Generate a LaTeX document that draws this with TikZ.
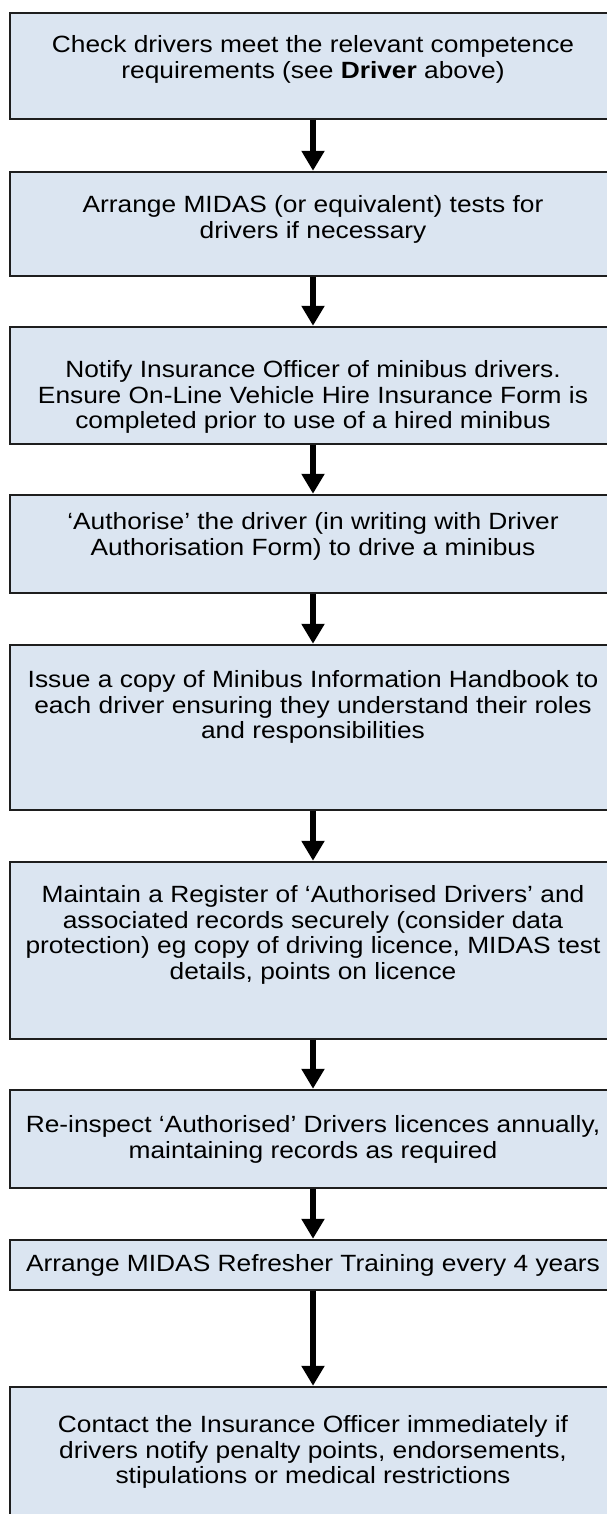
\documentclass[tikz,border=0pt]{standalone}
\usepackage{fontspec}
\setmainfont[FakeStretch=1.12]{Liberation Sans}
\usepackage{tikz}
\usetikzlibrary{arrows.meta, positioning}
\definecolor{boxfill}{RGB}{219,229,241}
\definecolor{boxline}{RGB}{30,30,30}

\tikzset{
    stepbox/.style={draw=boxline, line width=1.4pt, fill=boxfill, minimum width=606pt, inner sep=0pt},
    steptext/.style={align=center, inner sep=0pt, font=\fontsize{23.5}{25.5}\selectfont},
    flowarrow/.style={line width=6pt, -{Triangle[width=22pt, length=20pt]}, shorten >=0.5pt}
}

\begin{document}
\begin{tikzpicture}[x=1pt, y=-1pt]
    \useasboundingbox (0, 0) rectangle (607, 1514);

    % Boxes
    \node[stepbox, minimum height=106pt] (s1) at (313, 66) {};
    \node[stepbox, minimum height=104pt] (s2) at (313, 224) {};
    \node[stepbox, minimum height=117pt] (s3) at (313, 385.5) {};
    \node[stepbox, minimum height=98pt] (s4) at (313, 544) {};
    \node[stepbox, minimum height=165pt] (s5) at (313, 727.5) {};
    \node[stepbox, minimum height=177pt] (s6) at (313, 950.5) {};
    \node[stepbox, minimum height=98pt] (s7) at (313, 1139) {};
    \node[stepbox, minimum height=50pt] (s8) at (313, 1265) {};
    \node[stepbox, minimum height=140pt] (s9) at (313, 1457) {};

    % Texts
    \node[steptext, below=23pt of s1.north] (t1) {Check drivers meet the relevant competence\\requirements (see \textbf{Driver} above)};
    \node[steptext, below=24pt of s2.north] (t2) {Arrange MIDAS (or equivalent) tests for\\drivers if necessary};
    \node[steptext, below=34pt of s3.north] (t3) {Notify Insurance Officer of minibus drivers.\\Ensure On-Line Vehicle Hire Insurance Form is\\completed prior to use of a hired minibus};
    \node[steptext, below=18pt of s4.north] (t4) {‘Authorise’ the driver (in writing with Driver\\Authorisation Form) to drive a minibus};
    \node[steptext, below=26pt of s5.north] (t5) {Issue a copy of Minibus Information Handbook to\\each driver ensuring they understand their roles\\and responsibilities};
    \node[steptext, below=24pt of s6.north] (t6) {Maintain a Register of ‘Authorised Drivers’ and\\associated records securely (consider data\\protection) eg copy of driving licence, MIDAS test\\details, points on licence};
    \node[steptext, below=26pt of s7.north] (t7) {Re-inspect ‘Authorised’ Drivers licences annually,\\maintaining records as required};
    \node[steptext] (t8) at (s8) {Arrange MIDAS Refresher Training every 4 years};
    \node[steptext, below=29pt of s9.north] (t9) {Contact the Insurance Officer immediately if\\drivers notify penalty points, endorsements,\\stipulations or medical restrictions};

    % Arrows
    \foreach \a/\b in {s1/s2, s2/s3, s3/s4, s4/s5, s5/s6, s6/s7, s7/s8, s8/s9}
        \draw[flowarrow] (\a.south) -- (\b.north);
\end{tikzpicture}
\end{document}
